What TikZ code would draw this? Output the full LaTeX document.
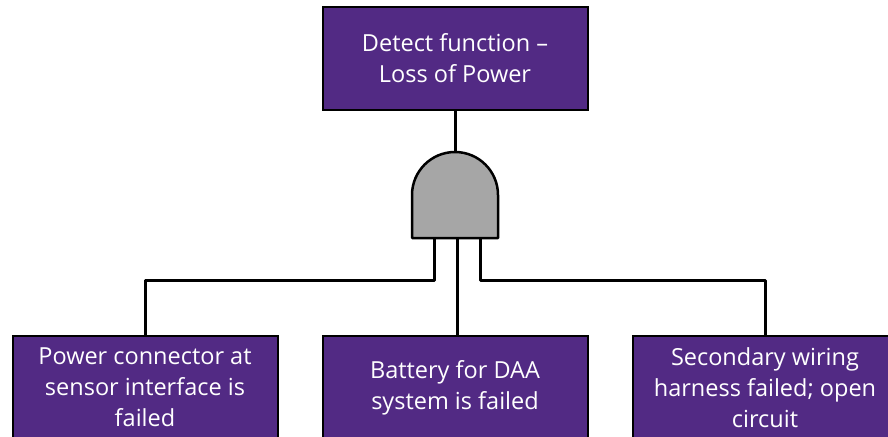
\documentclass[tikz,border=0pt]{standalone}
\usepackage{fontspec}
\setmainfont{Open Sans}
\definecolor{boxpurple}{HTML}{522A84}
\definecolor{gategray}{HTML}{A6A6A6}
\tikzset{
  event/.style={draw=black, line width=2pt, fill=boxpurple, text=white,
    minimum width=265pt, minimum height=103pt, align=center, inner sep=0pt,
    font=\fontsize{23.5}{31}\selectfont},
  wire/.style={draw=black, line width=3pt, line join=round}
}
\begin{document}
\begin{tikzpicture}[x=1pt,y=-1pt]
\useasboundingbox (0,0) rectangle (888,436);
\clip (0,0) rectangle (888,436);
\node[event] (top) at (455,58.5) {Detect function –\\Loss of Power};
\node[event] (left) at (145,387.5) {Power connector at\\sensor interface is\\failed};
\node[event] (mid) at (455,387.5) {Battery for DAA\\system is failed};
\node[event] (right) at (765,387.5) {Secondary wiring\\harness failed; open\\circuit};
% gate
\coordinate (gtop) at (455,152);
\coordinate (gL) at (434,238);
\coordinate (gM) at (457,238);
\coordinate (gR) at (480,238);
\draw[wire] (top.south) -- (gtop);
\draw[wire] (gL) -- ++(0,42) -| (left.north);
\draw[wire] (gM) -- (mid.north -| gM);
\draw[wire] (gR) -- ++(0,42) -| (right.north);
\filldraw[fill=gategray, draw=black, line width=2.5pt, line join=round]
  (412,238) -- (412,195) arc[start angle=180, end angle=360, radius=43] -- (498,238) -- cycle;
\end{tikzpicture}
\end{document}
